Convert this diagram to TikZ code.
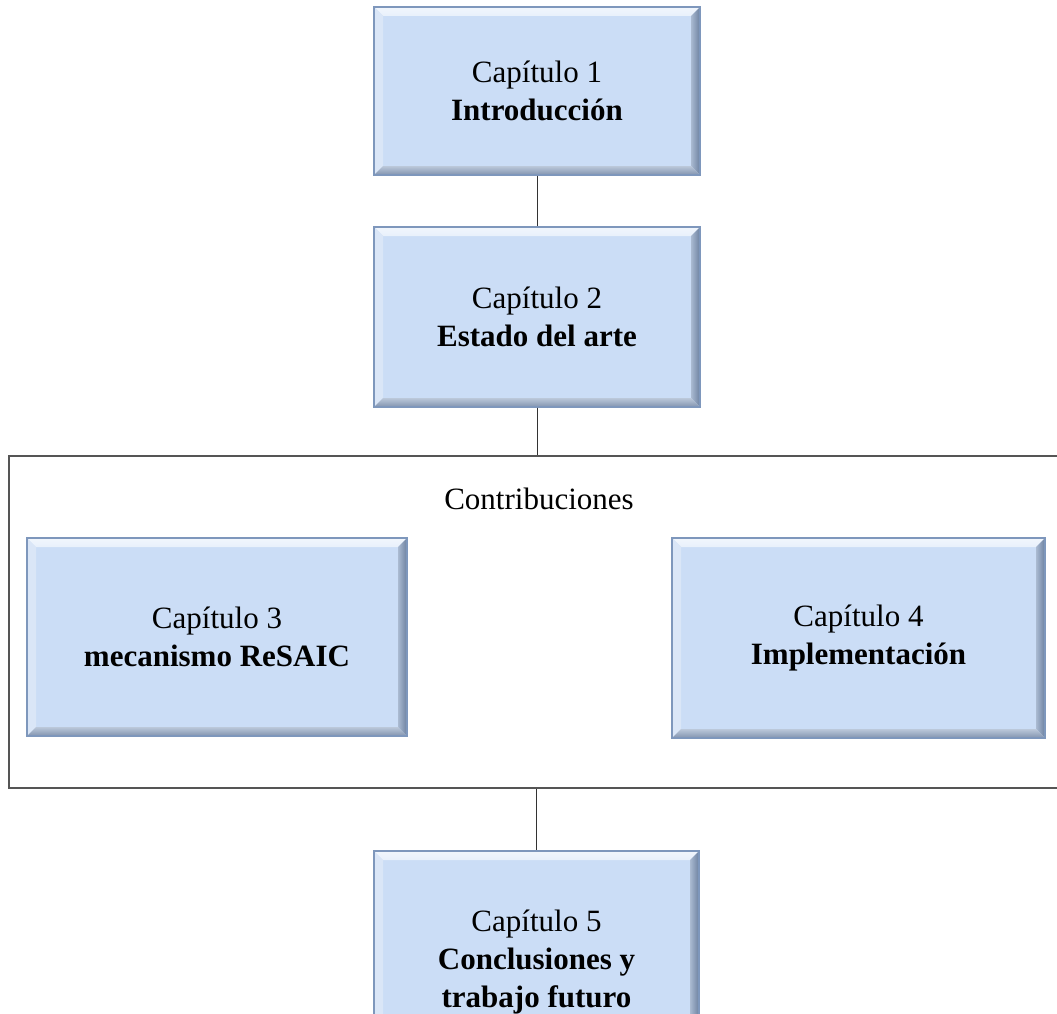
\documentclass[tikz,border=0pt]{standalone}
\usepackage{fontspec}
\setmainfont{Liberation Serif}
\definecolor{boxfill}{RGB}{203,221,246}
\definecolor{boxedge}{RGB}{126,151,188}
\definecolor{bevtop}{RGB}{232,240,251}
\definecolor{bevleft}{RGB}{218,230,247}
\definecolor{bevdarkA}{RGB}{170,186,209}
\definecolor{bevdarkB}{RGB}{108,129,160}
\definecolor{frame}{RGB}{85,85,85}
\begin{document}
\begin{tikzpicture}[x=1pt,y=-1pt,
  txt/.style={font=\fontsize{31}{38}\selectfont, align=center, text=black},
  chapbox/.style={txt, draw=boxedge, line width=1.1pt, fill=boxfill, inner sep=0pt,
    path picture={
      \def\bv{9pt}
      \coordinate (pNW) at (path picture bounding box.north west);
      \coordinate (pNE) at (path picture bounding box.north east);
      \coordinate (pSW) at (path picture bounding box.south west);
      \coordinate (pSE) at (path picture bounding box.south east);
      % light upper and left bevel faces
      \shade[top color=bevtop!60!white, bottom color=bevtop] (pNW) -- (pNE) -- ([xshift=-\bv,yshift=-\bv]pNE) -- ([xshift=\bv,yshift=-\bv]pNW) -- cycle;
      \fill[bevleft] (pNW) -- ([xshift=\bv,yshift=-\bv]pNW) -- ([xshift=\bv,yshift=\bv]pSW) -- (pSW) -- cycle;
      % shaded right and lower bevel faces
      \shade[left color=bevdarkA, right color=bevdarkB] (pNE) -- (pSE) -- ([xshift=-\bv,yshift=\bv]pSE) -- ([xshift=-\bv,yshift=-\bv]pNE) -- cycle;
      \shade[top color=bevdarkA!80!white, bottom color=bevdarkB!85!white] (pSW) -- (pSE) -- ([xshift=-\bv,yshift=\bv]pSE) -- ([xshift=\bv,yshift=\bv]pSW) -- cycle;
    }},
  container/.style={draw=frame, line width=1.6pt, fill=none, inner sep=0pt},
  conn/.style={draw=black!80, line width=0.8pt}
]
\useasboundingbox (0,0) rectangle (1057,1014);
\fill[white] (0,0) rectangle (1057,1014);

% group frame for the contribution chapters
\node[container, minimum width=1066pt, minimum height=332pt] (contrib) at (542,622) {};
\node[txt] (contribl) at (539,499) {Contribuciones};

% chapter boxes
\node[chapbox, minimum width=326pt, minimum height=168pt] (c1) at (537,91)
  {Capítulo 1\\\textbf{Introducción}};
\node[chapbox, minimum width=326pt, minimum height=180pt] (c2) at (537,317)
  {Capítulo 2\\\textbf{Estado del arte}};
\node[chapbox, minimum width=380pt, minimum height=198pt] (c3) at (217,637)
  {Capítulo 3\\\textbf{mecanismo ReSAIC}};
\node[chapbox, minimum width=373pt, minimum height=200pt] (c4) at (858.5,638)
  {Capítulo 4\\\textbf{Implementación}};
\node[chapbox, minimum width=325pt, minimum height=222pt] (c5) at (536.5,962)
  {Capítulo 5\\\textbf{Conclusiones y}\\\textbf{trabajo futuro}};

% connectors
\draw[conn] (c1.south) -- (c2.north);
\draw[conn] (c2.south) -- (c2.south |- contrib.north);
\draw[conn] (contrib.south -| c5.north) -- (c5.north);
\end{tikzpicture}
\end{document}
